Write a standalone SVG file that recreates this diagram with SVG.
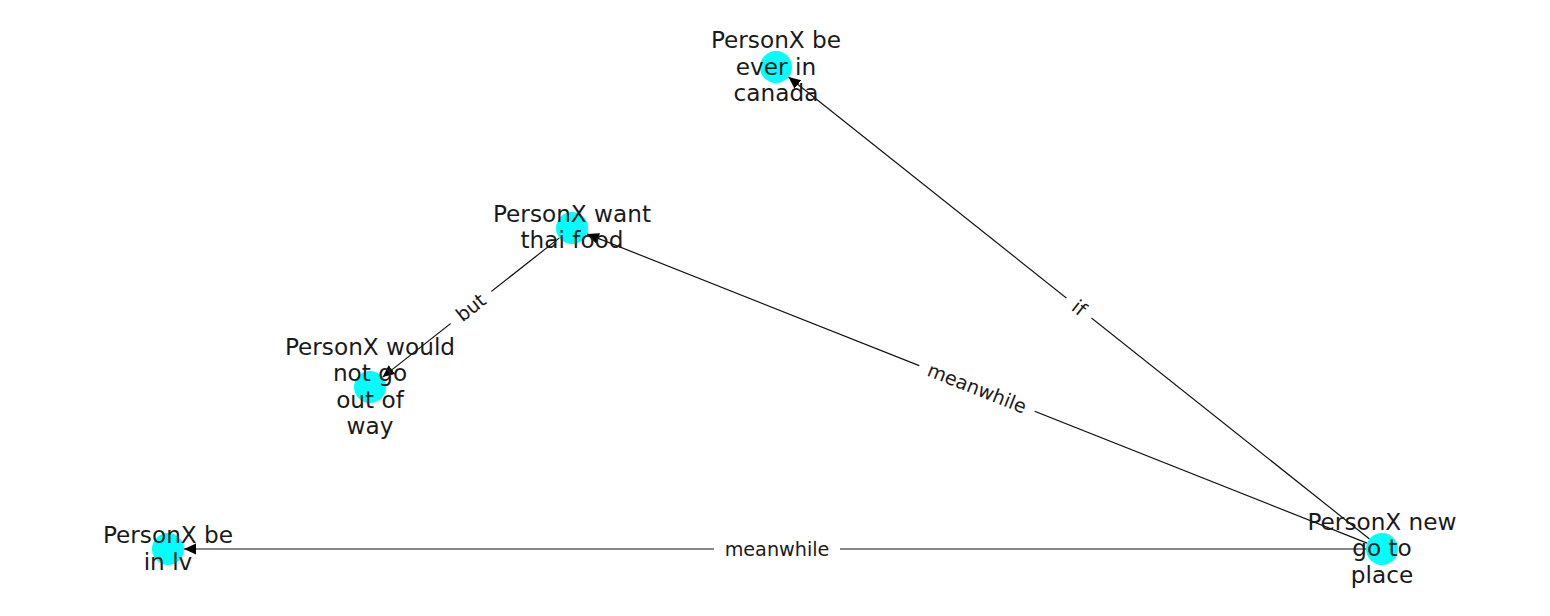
<svg xmlns="http://www.w3.org/2000/svg" width="1550" height="616" viewBox="0 0 1550 616">
<defs>
<marker id="arr" markerUnits="userSpaceOnUse" markerWidth="14" markerHeight="12" refX="12" refY="5.5" orient="auto">
<path d="M0,0 L12,5.5 L0,11 z" fill="#000"/>
</marker>
<style>
.edge{stroke:#111;stroke-width:1.2;fill:none;marker-end:url(#arr)}
.node circle{fill:#00ffff}
.node text{font-family:"DejaVu Sans",sans-serif;font-size:23.2px;fill:#1a1a1a;text-anchor:middle}
.elabel rect{fill:#fff}
.elabel text{font-family:"DejaVu Sans",sans-serif;font-size:19.2px;fill:#1a1a1a;text-anchor:middle}
</style>
</defs>
<rect width="1550" height="616" fill="#fff"/>
<g id="connectors">
<line class="edge" x1="1369.5" y1="539" x2="788.5" y2="77"/>
<line class="edge" x1="1367.1" y1="543.1" x2="586.9" y2="233.9"/>
<line class="edge" x1="559.4" y1="237.9" x2="382.6" y2="377.1"/>
<line class="edge" x1="1366" y1="549" x2="184" y2="549"/>
<g class="elabel" transform="translate(1079,308) rotate(38.5)"><rect x="-16" y="-14" width="32" height="28"/><text x="0" y="6.5">if</text></g>
<g class="elabel" transform="translate(977,388.5) rotate(21.6)"><rect x="-62" y="-14" width="124" height="28"/><text x="0" y="6.5">meanwhile</text></g>
<g class="elabel" transform="translate(471,307.5) rotate(-38.2)"><rect x="-26" y="-14" width="52" height="28"/><text x="0" y="6.5">but</text></g>
<g class="elabel" transform="translate(777,549)"><rect x="-63" y="-14" width="126" height="28"/><text x="0" y="6.5">meanwhile</text></g>
</g>
<g id="n_canada" class="node"><circle cx="776" cy="67" r="16"/><text x="776"><tspan x="776" y="48">PersonX be</tspan><tspan x="776" y="74.6">ever in</tspan><tspan x="776" y="101.2">canada</tspan></text></g>
<g id="n_thai" class="node"><circle cx="572" cy="228" r="16"/><text x="572"><tspan x="572" y="221.5">PersonX want</tspan><tspan x="572" y="248.1">thai food</tspan></text></g>
<g id="n_would" class="node"><circle cx="370" cy="387" r="16"/><text x="370"><tspan x="370" y="354.6">PersonX would</tspan><tspan x="370" y="381.2">not go</tspan><tspan x="370" y="407.8">out of</tspan><tspan x="370" y="434.4">way</tspan></text></g>
<g id="n_lv" class="node"><circle cx="168" cy="549" r="16"/><text x="168"><tspan x="168" y="543">PersonX be</tspan><tspan x="168" y="569.6">in lv</tspan></text></g>
<g id="n_new" class="node"><circle cx="1382" cy="549" r="16"/><text x="1382"><tspan x="1382" y="529.8">PersonX new</tspan><tspan x="1382" y="556.4">go to</tspan><tspan x="1382" y="583">place</tspan></text></g>
</svg>
